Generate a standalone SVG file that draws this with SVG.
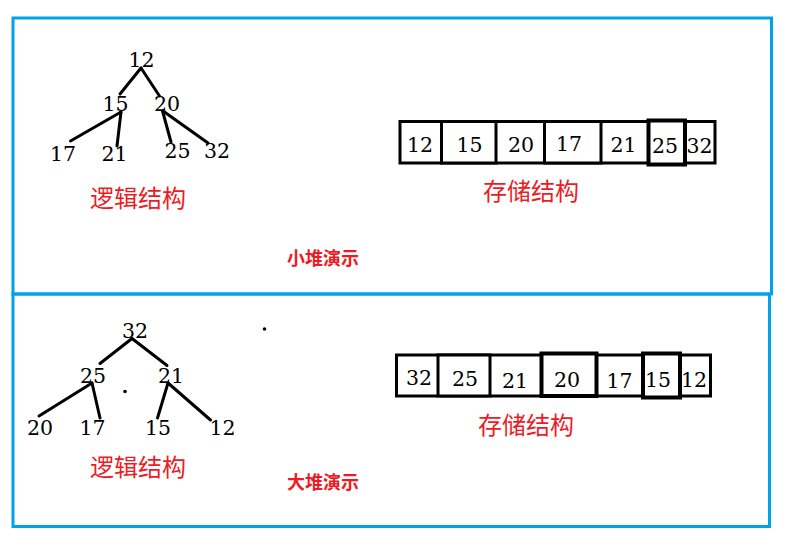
<svg xmlns="http://www.w3.org/2000/svg" width="787" height="541" viewBox="0 0 787 541">
<style>
.frame{fill:none;stroke:#00A2E8;stroke-width:3}
.num{font-family:"DejaVu Serif","Liberation Serif",serif;font-size:20.5px;fill:#000;text-anchor:middle}
.edge{stroke:#000;stroke-width:3;stroke-linecap:round;fill:none}
.cell{fill:#fff;stroke:#000;stroke-width:3}
.cellb{fill:#fff;stroke:#000;stroke-width:4}
.lbl{font-family:"Noto Sans CJK SC","Noto Sans",sans-serif;font-size:24px;fill:#ED1C24}
.cap{font-family:"Noto Sans CJK SC","Noto Sans",sans-serif;font-size:18px;font-weight:bold;fill:#ED1C24}
</style>
<rect width="787" height="541" fill="#fff"/>
<g id="frames">
<rect class="frame" x="13" y="18" width="758.5" height="276"/>
<rect class="frame" x="13" y="294" width="756.5" height="232.5"/>
</g>
<g id="connectors">
<line class="edge" x1="141" y1="68" x2="120" y2="94"/>
<line class="edge" x1="141" y1="68" x2="159.5" y2="96"/>
<line class="edge" x1="121" y1="112" x2="70.5" y2="141"/>
<line class="edge" x1="121" y1="112" x2="117" y2="146"/>
<line class="edge" x1="162.5" y1="111" x2="171" y2="142"/>
<line class="edge" x1="163" y1="111" x2="208" y2="143"/>
<line class="edge" x1="132" y1="338.5" x2="100" y2="363.5"/>
<line class="edge" x1="132" y1="338.5" x2="167" y2="365.5"/>
<line class="edge" x1="92" y1="383" x2="39" y2="416"/>
<line class="edge" x1="92" y1="383" x2="100" y2="418"/>
<line class="edge" x1="168" y1="383" x2="157.5" y2="418"/>
<line class="edge" x1="168" y1="383" x2="210.5" y2="420"/>
</g>
<g id="small-heap-tree">
<g id="t1-12"><text class="num" x="141.5" y="67">12</text></g>
<g id="t1-15"><text class="num" x="115.5" y="111">15</text></g>
<g id="t1-20"><text class="num" x="167" y="111">20</text></g>
<g id="t1-17"><text class="num" x="63" y="161">17</text></g>
<g id="t1-21"><text class="num" x="114.5" y="161">21</text></g>
<g id="t1-25"><text class="num" x="177.5" y="158">25</text></g>
<g id="t1-32"><text class="num" x="217" y="158">32</text></g>
</g>
<g id="small-heap-array">
<rect class="cell" x="400" y="121.5" width="315" height="41.5"/>
<rect class="cell" x="441.5" y="121.5" width="54.5" height="41.5"/>
<rect class="cell" x="544.5" y="121.5" width="56.5" height="41.5"/>
<rect class="cellb" x="648.5" y="120.5" width="36.5" height="44"/>
<text class="num" x="420" y="152">12</text>
<text class="num" x="469.5" y="152">15</text>
<text class="num" x="521" y="152">20</text>
<text class="num" x="569" y="151">17</text>
<text class="num" x="623.5" y="152">21</text>
<text class="num" x="665" y="152.5">25</text>
<text class="num" x="699.5" y="152.5">32</text>
</g>
<g id="small-heap-labels">
<text class="lbl" x="90" y="207">逻辑结构</text>
<text class="lbl" x="483" y="200">存储结构</text>
<text class="cap" x="287" y="265">小堆演示</text>
</g>
<g id="big-heap-tree">
<g id="t2-32"><text class="num" x="135" y="338">32</text></g>
<g id="t2-25"><text class="num" x="93" y="383">25</text></g>
<g id="t2-21"><text class="num" x="171" y="383">21</text></g>
<g id="t2-20"><text class="num" x="40" y="435">20</text></g>
<g id="t2-17"><text class="num" x="92.5" y="435">17</text></g>
<g id="t2-15"><text class="num" x="158" y="435">15</text></g>
<g id="t2-12"><text class="num" x="222.5" y="435">12</text></g>
<circle cx="264.5" cy="329" r="1.8" fill="#000"/>
<circle cx="125" cy="391.5" r="1.8" fill="#000"/>
</g>
<g id="big-heap-array">
<rect class="cell" x="396.5" y="355" width="314" height="41"/>
<rect class="cell" x="438" y="355" width="52" height="41"/>
<rect class="cellb" x="541.5" y="353.5" width="55" height="42.5"/>
<rect class="cellb" x="643" y="353.5" width="37" height="44"/>
<text class="num" x="419" y="385">32</text>
<text class="num" x="465" y="386">25</text>
<text class="num" x="515" y="387.5">21</text>
<text class="num" x="567" y="386.5">20</text>
<text class="num" x="619.5" y="388">17</text>
<text class="num" x="658" y="386.5">15</text>
<text class="num" x="694" y="386.5">12</text>
</g>
<g id="big-heap-labels">
<text class="lbl" x="90" y="476">逻辑结构</text>
<text class="lbl" x="478" y="434">存储结构</text>
<text class="cap" x="287" y="489">大堆演示</text>
</g>
</svg>
